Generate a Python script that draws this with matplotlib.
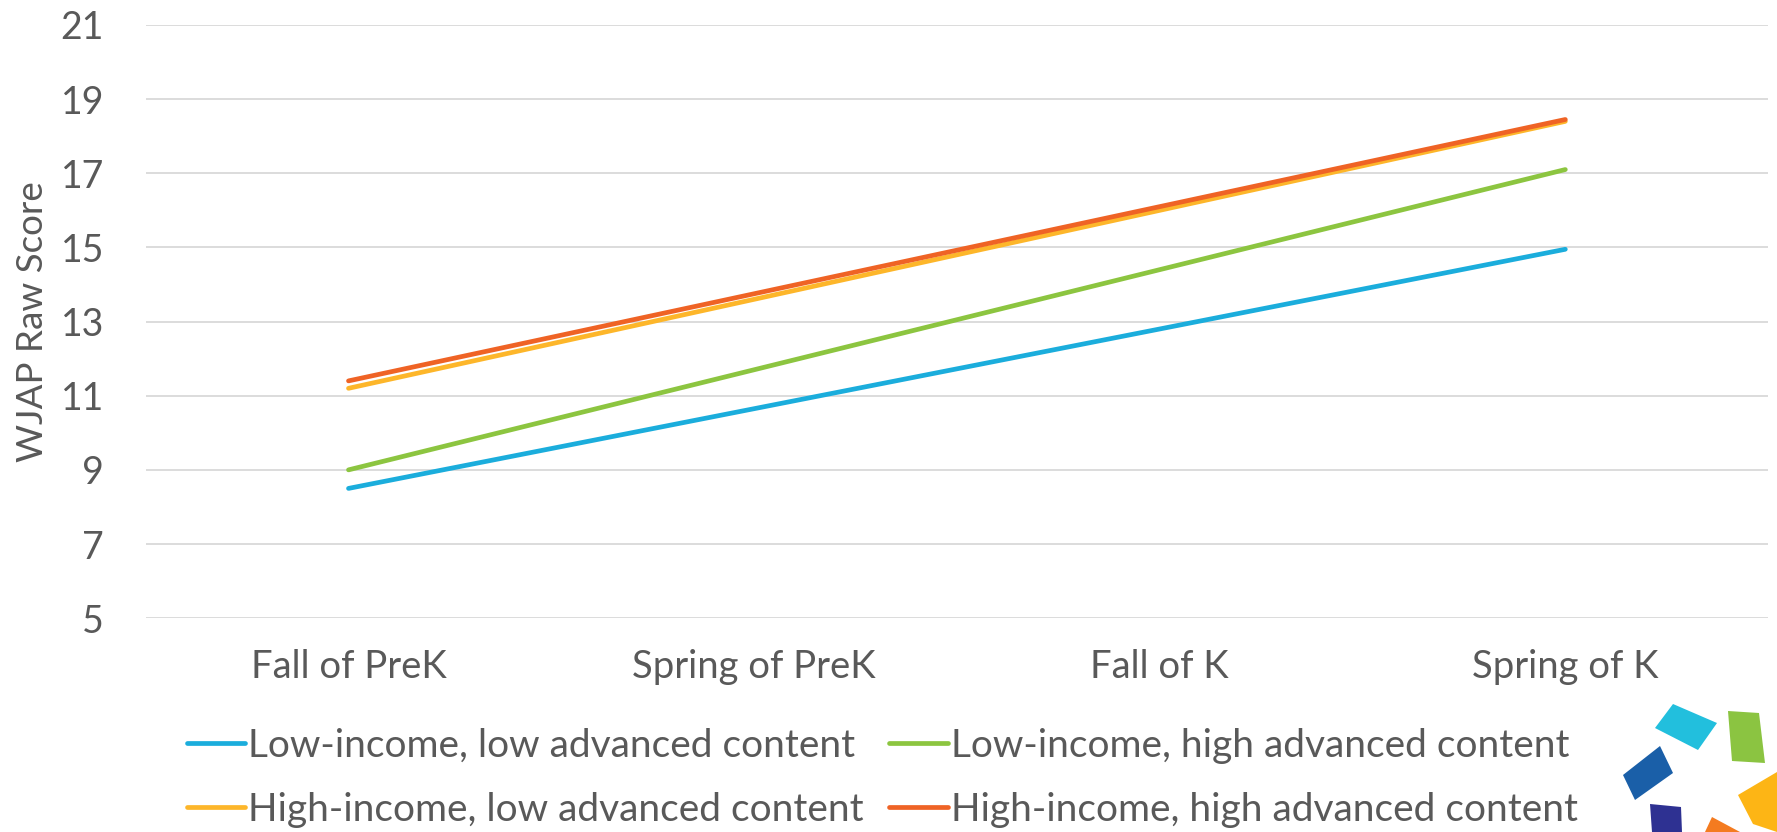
import matplotlib
matplotlib.use("Agg")
import matplotlib.pyplot as plt
from matplotlib.patches import Polygon

plt.rcParams["font.family"] = ["Lato", "DejaVu Sans"]

# ---- data ----
waves = ["Fall of PreK", "Spring of PreK", "Fall of K", "Spring of K"]
low_low = [8.5, 10.65, 12.8, 14.95]
low_high = [9.0, 11.7, 14.4, 17.1]
high_low = [11.2, 13.6, 16.0, 18.4]
high_high = [11.4, 13.75, 16.1, 18.45]

names = ["Low-income, low advanced content", "Low-income, high advanced content",
         "High-income, low advanced content", "High-income, high advanced content"]
colors = ["#1BADDC", "#8CC540", "#FDB62A", "#EF6325"]
values = [low_low, low_high, high_low, high_high]

TXT = "#595959"

fig = plt.figure(figsize=(17.77, 8.32), dpi=100)
ax = fig.add_axes([0.082, 0.257, 0.913, 0.713])

x = list(range(len(waves)))
lines = []
for name, vals, col in zip(names, values, colors):
    ln, = ax.plot(x, vals, color=col, linewidth=3.4, label=name, solid_capstyle="round")
    lines.append(ln)

ax.set_xlim(-0.5, 3.5)
ax.set_ylim(5, 21)
ax.set_yticks(range(5, 22, 2))
ax.set_xticks(x)
ax.set_xticklabels(waves)
ax.grid(axis="y", color="#D9D9D9", linewidth=1.3)
ax.set_axisbelow(True)
for s in ax.spines.values():
    s.set_visible(False)
ax.tick_params(axis="x", length=0, labelsize=27.5, colors=TXT, pad=22)
ax.tick_params(axis="y", length=0, labelsize=27, colors=TXT, pad=30)
ax.set_ylabel("WJAP Raw Score", fontsize=26.5, color=TXT, labelpad=8)

# legend: row-wise order (matplotlib fills columns first)
order = [0, 2, 1, 3]
leg = fig.legend([lines[i] for i in order], [names[i] for i in order],
                 loc="center left", bbox_to_anchor=(187 / 1777, 0.065), ncol=2,
                 frameon=False, fontsize=28, handlelength=1.5, handletextpad=0.08,
                 columnspacing=0.65, labelspacing=0.72, borderpad=0, borderaxespad=0)
for t in leg.get_texts():
    t.set_color(TXT)

# decorative logo fragment in the bottom-right corner (figure pixels)
W, H = 1777, 832
pieces = [
    ([(1655, 728), (1673, 704), (1717, 723), (1698, 750)], "#22BFDD"),
    ([(1728, 711), (1759, 713), (1765, 763), (1732, 761)], "#8BC441"),
    ([(1623, 775), (1660, 746), (1673, 773), (1635, 800)], "#1A5FA8"),
    ([(1738, 795), (1777, 772), (1777, 832), (1753, 824)], "#FDB515"),
    ([(1650, 804), (1681, 807), (1682, 832), (1652, 832)], "#2E3192"),
    ([(1705, 832), (1712, 817), (1740, 832)], "#F47B20"),
]
for pts, col in pieces:
    fig.patches.append(Polygon([(px / W, 1 - py / H) for px, py in pts],
                               closed=True, transform=fig.transFigure,
                               facecolor=col, edgecolor="none"))

fig.savefig("out.png", dpi=100)
